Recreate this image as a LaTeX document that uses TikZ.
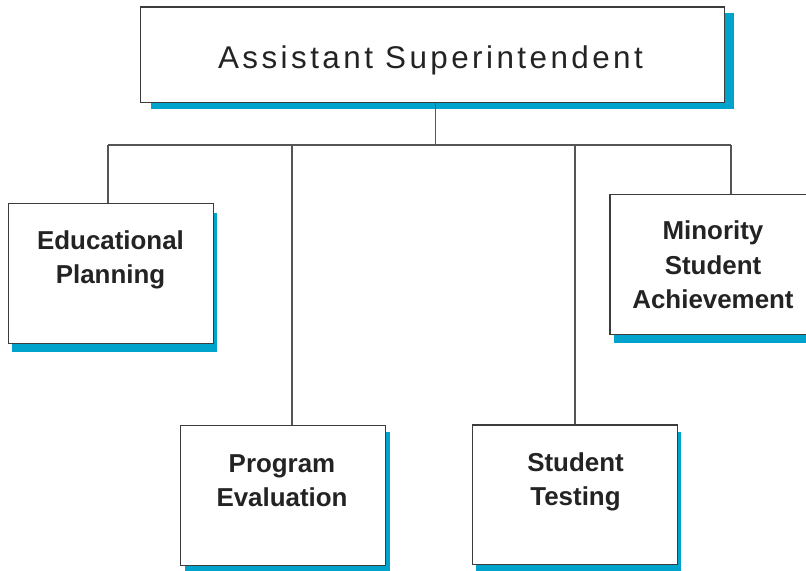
\documentclass[tikz,border=0pt]{standalone}
\usepackage{fontspec}
\setmainfont{Liberation Sans}
\newfontfamily\headfont[LetterSpace=11]{Liberation Sans}
\usetikzlibrary{shadows}
\definecolor{shadowblue}{RGB}{0,163,204}
\definecolor{frame}{RGB}{60,60,60}
\definecolor{wire}{RGB}{85,85,85}
\definecolor{ink}{RGB}{35,35,35}
\begin{document}
\begin{tikzpicture}[x=1bp,y=-1bp,
  unit/.style={rectangle, draw=frame, line width=1.2bp, fill=white, inner sep=0pt,
    minimum width=205bp, minimum height=139.5bp},
  shade/.style 2 args={drop shadow={shadow xshift=#1bp, shadow yshift=-#2bp,
    fill=shadowblue, opacity=1}},
  link/.style={draw=wire, line width=1.3bp},
  caption/.style={text=ink, inner sep=0pt, align=center,
    font=\bfseries\fontsize{26}{34.5}\selectfont},
]
\useasboundingbox (0,0) rectangle (806,571);
\clip (0,0) rectangle (806,571);

% connector taps on the bus
\coordinate (bus) at (435.5,145);
\coordinate (busL) at (108,145);
\coordinate (tapP) at (292,145);
\coordinate (tapT) at (575,145);
\coordinate (busR) at (731,145);

% boxes
\node[unit, shade={10}{6}, minimum width=583.6bp, minimum height=95.7bp] (top) at (432.5,54.85) {};
\node[unit, shade={3.5}{9}] (edu) at (110.65,273.65) {};
\node[unit, shade={3.5}{8.5}] (min) at (712.5,264.5) {};
\node[unit, shade={4}{6}] (prog) at (283.35,495.6) {};
\node[unit, shade={4}{6.5}] (test) at (574.7,494.75) {};

% connectors
\draw[link] (bus |- top.south) -- (bus);
\draw[link] (busL) -- (busR);
\draw[link] (busL) -- (busL |- edu.north);
\draw[link] (tapP) -- (tapP |- prog.north);
\draw[link] (tapT) -- (tapT |- test.north);
\draw[link] (busR) -- (busR |- min.north);

% labels
\node[text=ink, inner sep=0pt, anchor=base, font=\headfont\fontsize{31.5}{36}\selectfont]
  (topText) at (430.5,68.5) {Assistant Superintendent};
\node[caption] (eduText) at (110.5,260) {Educational\\Planning};
\node[caption] (minText) at (713,265) {Minority\\Student\\Achievement};
\node[caption] (progText) at (282,481) {Program\\Evaluation};
\node[caption] (testText) at (575.5,482) {Student\\Testing};
\end{tikzpicture}
\end{document}
